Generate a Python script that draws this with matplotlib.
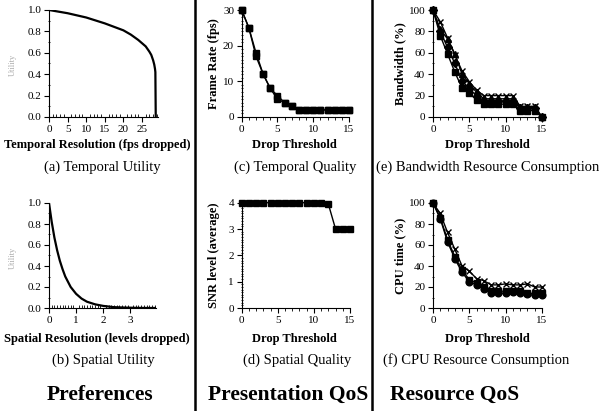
import matplotlib
matplotlib.use('Agg')
import matplotlib.pyplot as plt
from matplotlib.lines import Line2D
from matplotlib.ticker import MultipleLocator

plt.rcParams['font.family'] = ['Liberation Serif', 'DejaVu Serif']

# ---- data ----
temporal_x = [0, 5, 10, 15, 20, 22, 24, 25, 26, 27, 27.5, 28, 28.3, 28.5, 28.6, 28.7]
temporal_y = [1.0, 0.97, 0.93, 0.875, 0.81, 0.77, 0.72, 0.69, 0.66, 0.61, 0.58, 0.53, 0.49, 0.45, 0.42, 0.0]

spatial_x = [0, 0.1, 0.2, 0.3, 0.4, 0.5, 0.6, 0.7, 0.8, 1.0, 1.2, 1.4, 1.7, 2.0, 2.4, 2.8, 3.3, 4.0]
spatial_y = [1.0, 0.82, 0.67, 0.55, 0.45, 0.37, 0.30, 0.25, 0.20, 0.135, 0.09, 0.06, 0.035, 0.02, 0.008, 0.004, 0.001, 0.0]

drop = list(range(16))
fps_a = [30, 25, 18, 12, 8, 6, 4, 3, 2, 2, 2, 2, 2, 2, 2, 2]
fps_b = [30, 25, 17, 12, 8, 5, 4, 3, 2, 2, 2, 2, 2, 2, 2, 2]

snr = [4, 4, 4, 4, 4, 4, 4, 4, 4, 4, 4, 4, 3.95, 3, 3, 3]

bw_square = [100, 76, 59, 42, 27, 22, 16, 12, 12, 12, 12, 12, 6, 6, 6, 0]
bw_diamond = [100, 80, 65, 50, 34, 26, 20, 15, 15, 15, 15, 15, 8, 8, 8, 0]
bw_triangle = [100, 82, 73, 59, 40, 31, 23, 17, 17, 17, 17, 17, 9, 9, 9, 0]
bw_cross = [100, 89, 74, 58, 43, 33, 25, 20, 20, 20, 20, 20, 10, 10, 10, 0]

cpu_cross = [100, 90, 72, 56, 40, 35, 28, 26, 22, 22, 23, 22, 22, 23, 20, 20]
cpu_square = [100, 86, 65, 49, 36, 27, 24, 20, 16, 16, 16, 16, 16, 14, 14, 14]
cpu_circle = [100, 85, 63, 47, 34, 25, 22, 18, 14, 14, 14, 15, 14, 13, 12, 12]

W, H = 599, 411
fig = plt.figure(figsize=(W / 100, H / 100), dpi=100)


def px_axes(x0, x1, ytop, ybot):
    return fig.add_axes([x0 / W, (H - ybot) / H, (x1 - x0) / W, (ybot - ytop) / H])


def style(ax, xmaj, xmin, ymaj, ymin, xminor_in=False):
    for s in ['top', 'right']:
        ax.spines[s].set_visible(False)
    ax.xaxis.set_major_locator(MultipleLocator(xmaj))
    ax.xaxis.set_minor_locator(MultipleLocator(xmin))
    ax.yaxis.set_major_locator(MultipleLocator(ymaj))
    ax.yaxis.set_minor_locator(MultipleLocator(ymin))
    ax.tick_params(which='major', length=3.5, width=0.8, labelsize=8, pad=2, direction='out')
    ax.tick_params(axis='y', which='minor', length=2, width=0.6, direction='inout')
    ax.tick_params(axis='x', which='minor', length=2, width=0.6,
                   direction='in' if xminor_in else 'out')


def fig_text(x, y, s, **kw):
    fig.text(x / W, 1 - y / H, s, **kw)


mk = dict(color='black', lw=1.0, markersize=4.8, clip_on=False)
yl = dict(fontsize=9, fontweight='bold')

# (a) temporal utility
ax = px_axes(49, 157.6, 10, 117)
ax.plot(temporal_x, temporal_y, color='black', lw=1.6)
ax.set_xlim(0, 29.2)
ax.set_ylim(0, 1)
style(ax, 5, 1, 0.2, 0.1, xminor_in=True)
ax.yaxis.set_major_formatter(plt.FormatStrFormatter('%.1f'))

# (b) spatial utility
ax = px_axes(49, 156, 203, 308)
ax.plot(spatial_x, spatial_y, color='black', lw=1.6)
ax.set_xlim(0, 3.95)
ax.set_ylim(0, 1)
style(ax, 1, 0.1, 0.2, 0.1, xminor_in=True)
ax.yaxis.set_major_formatter(plt.FormatStrFormatter('%.1f'))

# (c) temporal quality
ax = px_axes(241.7, 349, 10, 117)
ax.plot(drop, fps_a, marker='s', **mk)
ax.plot(drop, fps_b, marker='s', **mk)
ax.set_xlim(0, 15)
ax.set_ylim(0, 30)
style(ax, 5, 1, 10, 1)
ax.set_ylabel('Frame Rate (fps)', labelpad=2, **yl)

# (d) spatial quality
ax = px_axes(241.7, 350, 202.7, 308)
ax.plot(drop, snr, marker='s', **mk)
ax.set_xlim(0, 15)
ax.set_ylim(0, 4)
style(ax, 5, 1, 1, 0.1)
ax.set_ylabel('SNR level (average)', labelpad=6, **yl)

# (e) bandwidth
ax = px_axes(433, 542, 10, 117)
ax.plot(drop, bw_cross, marker='x', **mk)
ax.plot(drop, bw_triangle, marker='^', **mk)
ax.plot(drop, bw_diamond, marker='D', **dict(mk, markersize=4))
ax.plot(drop, bw_square, marker='s', **mk)
ax.set_xlim(0, 15)
ax.set_ylim(0, 100)
style(ax, 5, 1, 20, 10)
ax.set_ylabel('Bandwidth (%)', labelpad=2, **yl)

# (f) cpu
ax = px_axes(433, 542, 203, 308)
ax.plot(drop, cpu_cross, marker='x', **mk)
ax.plot(drop, cpu_square, marker='s', **mk)
ax.plot(drop, cpu_circle, marker='o', **mk)
ax.set_xlim(0, 15)
ax.set_ylim(0, 100)
style(ax, 5, 1, 20, 10)
ax.set_ylabel('CPU time (%)', labelpad=2, **yl)

# faint utility labels on the left
fig_text(13, 65, 'Utility', rotation=90, ha='center', va='center', fontsize=6, color='#aaaaaa')
fig_text(13, 258, 'Utility', rotation=90, ha='center', va='center', fontsize=6, color='#aaaaaa')

# x labels
xl = dict(ha='center', va='center', fontsize=9, fontweight='bold')
fig_text(97, 145, 'Temporal Resolution (fps dropped)', **xl)
fig_text(97, 339, 'Spatial Resolution (levels dropped)', **xl)
fig_text(294, 145, 'Drop Threshold', **xl)
fig_text(294, 339, 'Drop Threshold', **xl)
fig_text(487, 145, 'Drop Threshold', **xl)
fig_text(487, 339, 'Drop Threshold', **xl)

# captions
cp = dict(va='center', fontsize=10.5)
fig_text(102, 167, '(a) Temporal Utility', ha='center', **cp)
fig_text(103, 360, '(b) Spatial Utility', ha='center', **cp)
fig_text(295, 167, '(c) Temporal Quality', ha='center', **cp)
fig_text(297, 360, '(d) Spatial Quality', ha='center', **cp)
fig_text(376, 167, '(e) Bandwidth Resource Consumption', ha='left', **cp)
fig_text(383, 360, '(f) CPU Resource Consumption', ha='left', **cp)

# group titles
gt = dict(va='center', fontsize=15.5, fontweight='bold')
fig_text(100, 395, 'Preferences', ha='center', **gt)
fig_text(288, 395, 'Presentation QoS', ha='center', **gt)
fig_text(455, 395, 'Resource QoS', ha='center', **gt)

# separators
for xs in [195.5, 372]:
    fig.add_artist(Line2D([xs / W, xs / W], [0, 1], transform=fig.transFigure,
                          color='black', lw=1.8))

fig.savefig('out.png', dpi=100)
